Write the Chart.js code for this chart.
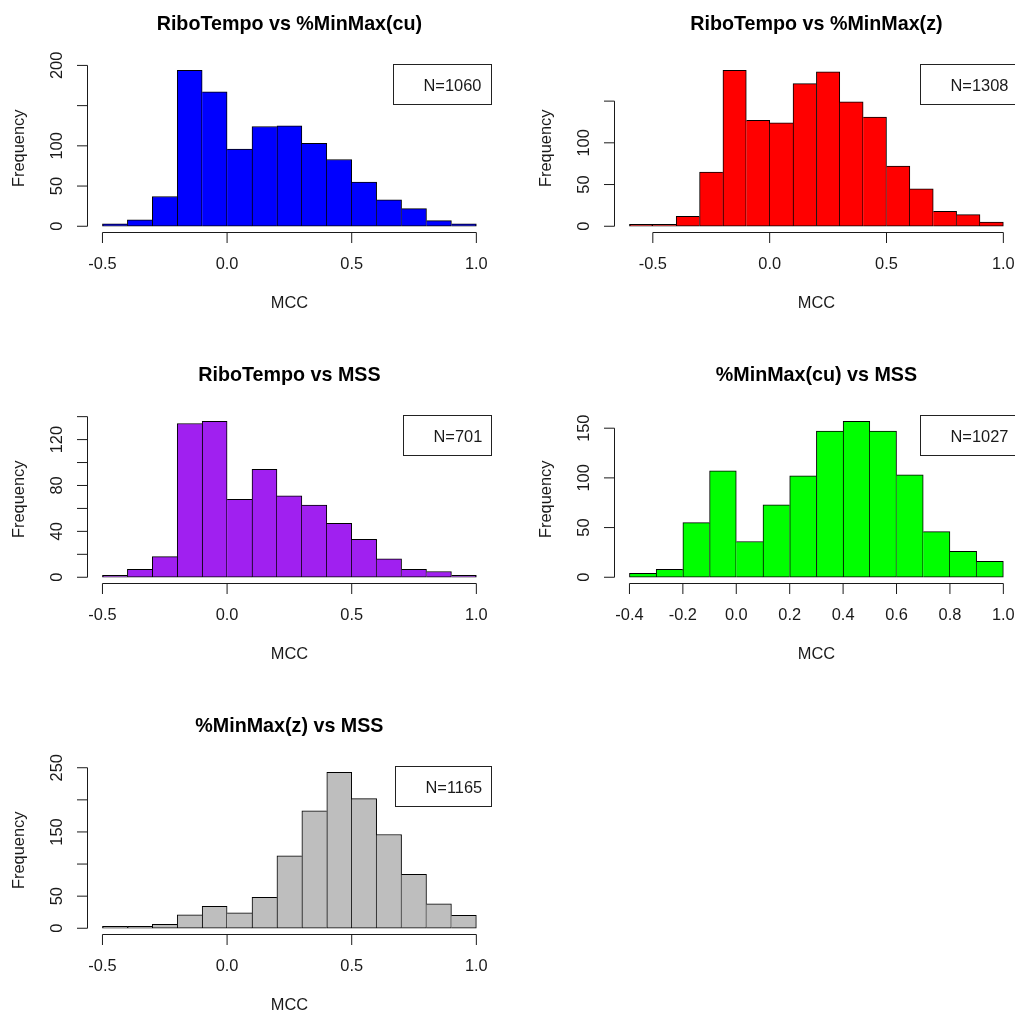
<!DOCTYPE html>
<html>
<head>
<meta charset="utf-8">
<title>MCC histograms</title>
<script src="https://cdn.jsdelivr.net/npm/chart.js@4.4.1/dist/chart.umd.min.js"></script>
<style>
  html, body { margin: 0; padding: 0; background: #fff; }
  body { width: 1015px; height: 1012px; overflow: hidden; position: relative; }
  canvas { position: absolute; }
</style>
</head>
<body>
<canvas id="riboCu" width="527" height="351" style="left:0;top:0"></canvas>
<canvas id="riboZ" width="527" height="351" style="left:527px;top:0"></canvas>
<canvas id="riboMss" width="527" height="351" style="left:0;top:351px"></canvas>
<canvas id="cuMss" width="527" height="351" style="left:527px;top:351px"></canvas>
<canvas id="zMss" width="527" height="351" style="left:0;top:702px"></canvas>
<script>
// histogram bin edges (MCC)
const breaksFrom05 = [-0.5, -0.4, -0.3, -0.2, -0.1, 0.0, 0.1, 0.2, 0.3, 0.4, 0.5, 0.6, 0.7, 0.8, 0.9, 1.0];
const breaksFrom06 = [-0.6, -0.5, -0.4, -0.3, -0.2, -0.1, 0.0, 0.1, 0.2, 0.3, 0.4, 0.5, 0.6, 0.7, 0.8, 0.9, 1.0];
const breaksFrom04 = [-0.4, -0.3, -0.2, -0.1, 0.0, 0.1, 0.2, 0.3, 0.4, 0.5, 0.6, 0.7, 0.8, 0.9, 1.0];

// counts per bin
const countsRiboCu  = [3, 8, 37, 194, 167, 96, 124, 125, 103, 83, 55, 33, 22, 7, 3];
const countsRiboZ   = [2, 1, 12, 65, 187, 127, 124, 171, 185, 149, 131, 72, 45, 18, 14, 5];
const countsRiboMss = [1, 7, 18, 134, 136, 68, 94, 71, 63, 47, 33, 16, 7, 5, 1];
const countsCuMss   = [4, 8, 55, 107, 36, 73, 102, 147, 157, 147, 103, 46, 26, 16];
const countsZMss    = [1, 2, 6, 21, 34, 24, 48, 113, 183, 243, 202, 146, 84, 38, 20];

// axis ticks
const xTicksHalf   = [-0.5, 0.0, 0.5, 1.0];
const xLabelsHalf  = ['-0.5', '0.0', '0.5', '1.0'];
const xTicksFifth  = [-0.4, -0.2, 0.0, 0.2, 0.4, 0.6, 0.8, 1.0];
const xLabelsFifth = ['-0.4', '-0.2', '0.0', '0.2', '0.4', '0.6', '0.8', '1.0'];

const yTicksRiboCu   = [0, 50, 100, 150, 200];
const yLabelsRiboCu  = ['0', '50', '100', '', '200'];
const yTicksRiboZ    = [0, 50, 100, 150];
const yLabelsRiboZ   = ['0', '50', '100', ''];
const yTicksRiboMss  = [0, 20, 40, 60, 80, 100, 120, 140];
const yLabelsRiboMss = ['0', '', '40', '', '80', '', '120', ''];
const yTicksCuMss    = [0, 50, 100, 150];
const yLabelsCuMss   = ['0', '50', '100', '150'];
const yTicksZMss     = [0, 50, 100, 150, 200, 250];
const yLabelsZMss    = ['0', '50', '', '150', '', '250'];

const FONT = '"Liberation Sans", Arial, Helvetica, sans-serif';
const INK = '#1a1a1a';

// base-graphics look: detached axes, rotated y labels, title and the N= box
function rFrame(spec) {
  return {
    id: 'rFrame',
    afterDraw(chart) {
      const ctx = chart.ctx;
      const { left, right, top, bottom } = chart.chartArea;
      const xs = chart.scales.x, ys = chart.scales.y;
      ctx.save();
      ctx.strokeStyle = INK;
      ctx.fillStyle = INK;
      ctx.lineWidth = 1;

      // x axis
      const xa = spec.xTicks.map(v => xs.getPixelForValue(v));
      ctx.beginPath();
      ctx.moveTo(xa[0], bottom);
      ctx.lineTo(xa[xa.length - 1], bottom);
      xa.forEach(px => { ctx.moveTo(px, bottom); ctx.lineTo(px, bottom + 10.5); });
      ctx.stroke();

      // y axis
      const ya = spec.yTicks.map(v => ys.getPixelForValue(v));
      ctx.beginPath();
      ctx.moveTo(left, ya[0]);
      ctx.lineTo(left, ya[ya.length - 1]);
      ya.forEach(py => { ctx.moveTo(left, py); ctx.lineTo(left - 10.5, py); });
      ctx.stroke();

      ctx.font = '16.4px ' + FONT;
      ctx.textAlign = 'center';
      ctx.textBaseline = 'alphabetic';
      xa.forEach((px, i) => ctx.fillText(spec.xLabels[i], px, bottom + 36));
      ya.forEach((py, i) => {
        if (!spec.yLabels[i]) return;
        ctx.save();
        ctx.translate(left - 25.2, py);
        ctx.rotate(-Math.PI / 2);
        ctx.fillText(spec.yLabels[i], 0, 0);
        ctx.restore();
      });

      // axis titles
      const cx = (left + right) / 2;
      ctx.fillText('MCC', cx, bottom + 75);
      ctx.save();
      ctx.translate(23.8, (top + bottom) / 2);
      ctx.rotate(-Math.PI / 2);
      ctx.fillText('Frequency', 0, 0);
      ctx.restore();

      // main title
      ctx.fillStyle = '#000';
      ctx.font = 'bold 19.7px ' + FONT;
      ctx.fillText(spec.title, cx, 30.3);

      // sample size box
      ctx.font = '16.4px ' + FONT;
      const label = 'N=' + spec.n;
      const w = ctx.measureText(label).width + 40;
      const bx = Math.round(right - w) + 0.5;
      const by = Math.round(top) + 0.5;
      const bw = Math.round(right) + 0.5 - bx;
      ctx.fillStyle = '#fff';
      ctx.fillRect(bx, by, bw, 40);
      ctx.strokeStyle = '#222';
      ctx.strokeRect(bx, by, bw, 40);
      ctx.fillStyle = INK;
      ctx.textAlign = 'left';
      ctx.fillText(label, bx + 30, by + 26);
      ctx.restore();
    }
  };
}

function drawHistogram(canvasId, spec) {
  const { breaks, counts } = spec;
  const bins = counts.map((c, i) => ({ x: (breaks[i] + breaks[i + 1]) / 2, y: c }));
  const lo = breaks[0], hi = breaks[breaks.length - 1];
  const xPad = (hi - lo) * 0.04;
  const yMax = Math.max(...counts);
  const last = counts.length - 1;

  // shared bin edges are outlined once, by the taller of the two bars
  const edges = (c) => {
    const i = c.dataIndex;
    if (i === undefined) return 1;
    const h = counts[i];
    return {
      top: 1,
      bottom: 1,
      left: (i === 0 || h >= counts[i - 1]) ? 1 : 0,
      right: (i === last || h > counts[i + 1]) ? 1 : 0
    };
  };

  return new Chart(document.getElementById(canvasId), {
    type: 'bar',
    data: {
      datasets: [{
        data: bins,
        backgroundColor: spec.color,
        borderColor: '#000',
        borderWidth: edges,
        borderSkipped: false,
        minBarLength: 2,
        barPercentage: 1,
        categoryPercentage: 1
      }]
    },
    options: {
      responsive: false,
      animation: false,
      events: [],
      layout: { padding: { left: 87.5, right: 35.7, top: 64, bottom: 118.5 } },
      plugins: { legend: { display: false }, tooltip: { enabled: false }, title: { display: false } },
      scales: {
        x: {
          type: 'linear', display: false, offset: false,
          min: lo - xPad, max: hi + xPad,
          ticks: { includeBounds: false }
        },
        y: {
          type: 'linear', display: false,
          min: -yMax * 0.04, max: yMax * 1.04
        }
      }
    },
    plugins: [rFrame(spec)]
  });
}

drawHistogram('riboCu', {
  title: 'RiboTempo vs %MinMax(cu)', n: 1060, color: '#0000FF',
  breaks: breaksFrom05, counts: countsRiboCu,
  xTicks: xTicksHalf, xLabels: xLabelsHalf, yTicks: yTicksRiboCu, yLabels: yLabelsRiboCu
});
drawHistogram('riboZ', {
  title: 'RiboTempo vs %MinMax(z)', n: 1308, color: '#FF0000',
  breaks: breaksFrom06, counts: countsRiboZ,
  xTicks: xTicksHalf, xLabels: xLabelsHalf, yTicks: yTicksRiboZ, yLabels: yLabelsRiboZ
});
drawHistogram('riboMss', {
  title: 'RiboTempo vs MSS', n: 701, color: '#A020F0',
  breaks: breaksFrom05, counts: countsRiboMss,
  xTicks: xTicksHalf, xLabels: xLabelsHalf, yTicks: yTicksRiboMss, yLabels: yLabelsRiboMss
});
drawHistogram('cuMss', {
  title: '%MinMax(cu) vs MSS', n: 1027, color: '#00FF00',
  breaks: breaksFrom04, counts: countsCuMss,
  xTicks: xTicksFifth, xLabels: xLabelsFifth, yTicks: yTicksCuMss, yLabels: yLabelsCuMss
});
drawHistogram('zMss', {
  title: '%MinMax(z) vs MSS', n: 1165, color: '#BEBEBE',
  breaks: breaksFrom05, counts: countsZMss,
  xTicks: xTicksHalf, xLabels: xLabelsHalf, yTicks: yTicksZMss, yLabels: yLabelsZMss
});
</script>
</body>
</html>
